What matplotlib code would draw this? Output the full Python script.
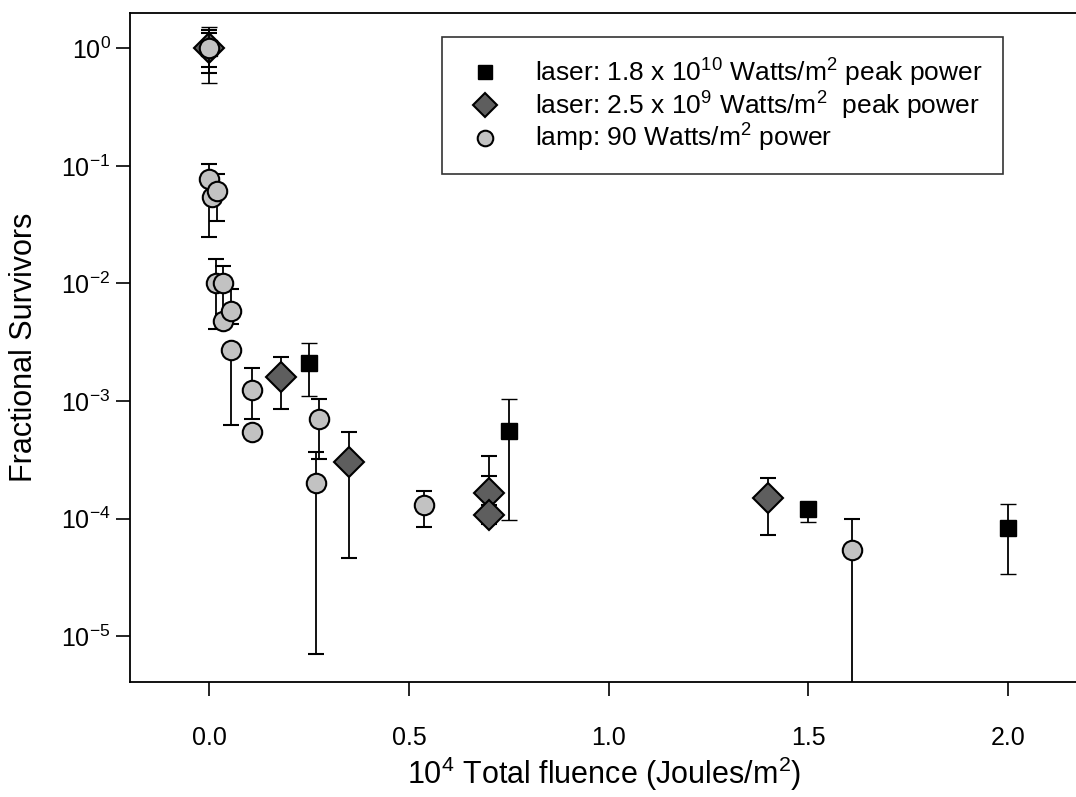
import numpy as np
import matplotlib
matplotlib.use("Agg")
import matplotlib.pyplot as plt
from matplotlib.ticker import NullLocator, FixedLocator

plt.rcParams['font.family'] = ['Liberation Sans', 'DejaVu Sans']
plt.rcParams['mathtext.fontset'] = 'custom'
plt.rcParams['mathtext.rm'] = 'Liberation Sans'
plt.rcParams['mathtext.default'] = 'regular'

# laser 1.8e10 W/m^2 (squares)
sq_x = [0.0, 0.25, 0.75, 1.5, 2.0]
sq_y = [1.0, 2.1e-3, 5.6e-4, 1.2e-4, 8.3e-5]
sq_lo = [0.51, 1.1e-3, 9.8e-5, 9.4e-5, 3.4e-5]
sq_hi = [1.51, 3.1e-3, 1.03e-3, 1.3e-4, 1.34e-4]

# laser 2.5e9 W/m^2 (diamonds)
dm_x = [0.0, 0.18, 0.35, 0.70, 0.70, 1.40]
dm_y = [1.0, 1.6e-3, 3.0e-4, 1.66e-4, 1.07e-4, 1.5e-4]
dm_lo = [0.62, 8.6e-4, 4.6e-5, 1.3e-4, 9.0e-5, 7.3e-5]
dm_hi = [1.42, 2.35e-3, 5.5e-4, 3.4e-4, 2.3e-4, 2.2e-4]

# lamp 90 W/m^2 (circles)
lp_x = [0.0, 0.0, 0.008, 0.02, 0.018, 0.035, 0.035, 0.055, 0.055,
        0.108, 0.108, 0.268, 0.276, 0.539, 1.61]
lp_y = [1.0, 0.078, 0.054, 0.061, 0.010, 0.0101, 0.0048, 0.0058, 0.0027,
        1.23e-3, 5.4e-4, 2.0e-4, 7.0e-4, 1.3e-4, 5.4e-5]
lp_lo = [0.69, 0.0246, 0.05, 0.034, 0.0041, 0.0055, 0.0045, 0.0045, 6.3e-4,
         7.0e-4, 4.9e-4, 7.1e-6, 3.2e-4, 8.4e-5, 1e-8]
lp_hi = [1.34, 0.103, 0.058, 0.086, 0.016, 0.014, 0.0050, 0.0089, 0.0028,
         1.9e-3, 5.5e-4, 3.7e-4, 1.05e-3, 1.7e-4, 1.0e-4]

labels = ['laser: 1.8 x 10$^{10}$ Watts/m$^2$ peak power',
          'laser: 2.5 x 10$^{9}$ Watts/m$^2$  peak power',
          'lamp: 90 Watts/m$^2$ power']


def err(y, lo, hi):
    y = np.array(y)
    return [y - np.array(lo), np.array(hi) - y]


fig = plt.figure(figsize=(10.76, 7.97), dpi=100)
ax = fig.add_axes([130 / 1076, 1 - 682 / 797, 1 - 130 / 1076 + 0.002, (682 - 13) / 797])

ekw = dict(ecolor='black', elinewidth=1.3, capsize=6, capthick=1.5, linestyle='none')
ax.errorbar(sq_x, sq_y, yerr=err(sq_y, sq_lo, sq_hi), fmt='s', ms=12,
            mfc='black', mec='black', mew=1, zorder=3, label=labels[0], **ekw)
ax.errorbar(dm_x, dm_y, yerr=err(dm_y, dm_lo, dm_hi), fmt='D', ms=15,
            mfc='#5e5e5e', mec='black', mew=1.5, zorder=4, label=labels[1], **ekw)
ax.errorbar(lp_x, lp_y, yerr=err(lp_y, lp_lo, lp_hi), fmt='o', ms=14,
            mfc='#c2c2c2', mec='black', mew=1.5, zorder=5, label=labels[2], **ekw)

ax.set_yscale('log')
ax.set_ylim(10 ** (-5.39), 10 ** 0.30)
ax.set_xlim(-0.198, 2.175)
ax.yaxis.set_major_locator(FixedLocator([1e-5, 1e-4, 1e-3, 1e-2, 1e-1, 1]))
ax.yaxis.set_minor_locator(NullLocator())
ax.set_xticks([0.0, 0.5, 1.0, 1.5, 2.0])
ax.set_xticklabels(['0.0', '0.5', '1.0', '1.5', '2.0'])

ax.spines['right'].set_visible(False)
for s in ['left', 'bottom', 'top']:
    ax.spines[s].set_linewidth(1.3)
ax.tick_params(axis='x', direction='out', length=10, width=1.2, pad=22, labelsize=18)
ax.tick_params(axis='y', direction='out', length=10, width=1.2, pad=4, labelsize=18)

ax.set_xlabel('10$^4$ Total fluence (Joules/m$^2$)', fontsize=22, labelpad=3)
ax.set_ylabel('Fractional Survivors', fontsize=22, labelpad=16)

handles, labs = ax.get_legend_handles_labels()
h2 = [h[0] for h in handles]
leg = ax.legend(h2, labs, loc='upper left',
                bbox_to_anchor=((441 - 130) / 946, 1 - (37 - 13) / 669),
                fontsize=19, frameon=True, fancybox=False, edgecolor='black',
                borderpad=0.75, handletextpad=1.0, labelspacing=0.02,
                markerscale=0.8, handlelength=1.8, borderaxespad=0)
leg.get_frame().set_linewidth(1.2)

fig.savefig('out.png', dpi=100)
